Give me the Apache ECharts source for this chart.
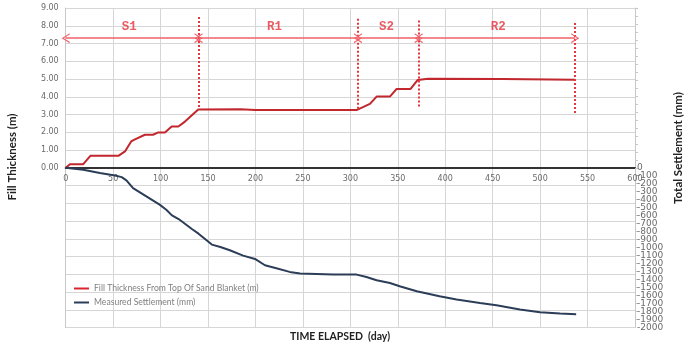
<!DOCTYPE html>
<html>
<head>
<meta charset="utf-8">
<script src="https://cdn.jsdelivr.net/npm/echarts@6/dist/echarts.min.js"></script>
<style>html,body{margin:0;padding:0;background:#fff;}#c{width:684px;height:349px;}</style>
</head>
<body>
<div id="c"></div>
<script>
// ---- data ----
var fillName = 'Fill Thickness From Top Of Sand Blanket (m)';
var settleName = 'Measured Settlement (mm)';
var fillDays = [0, 4.5, 18.5, 26, 55.5, 62.5, 69, 73, 83.5, 92, 97.6, 104.6, 111.7, 118.7, 125.7, 139.7, 184, 200, 307, 320.6, 327.7, 341.7, 348.8, 363.5, 371, 382, 460, 537];
var fillVals = [0, 0.2, 0.2, 0.67, 0.67, 0.92, 1.48, 1.6, 1.86, 1.86, 1.99, 1.99, 2.32, 2.32, 2.6, 3.28, 3.3, 3.25, 3.26, 3.6, 4.01, 4.01, 4.44, 4.44, 4.95, 5.02, 5.0, 4.96];
var settleDays = [0, 18.5, 36, 52, 59, 64, 71, 85, 99, 106, 112, 119, 133, 140, 154, 163, 173, 187, 199.5, 210, 222, 236, 247, 282, 306.6, 317, 327.7, 341.7, 352, 370, 394, 412, 436.6, 454, 478.7, 500, 521, 538];
var settleVals = [0, -25, -67, -96, -117, -158, -254, -358, -462, -525, -596, -642, -767, -825, -962, -992, -1033, -1100, -1142, -1221, -1258, -1304, -1325, -1338, -1338, -1367, -1408, -1442, -1483, -1546, -1608, -1650, -1692, -1721, -1775, -1808, -1825, -1833];

var phaseNames = ['S1', 'R1', 'S2', 'R2'];
var phaseStart = [0, 140, 308, 372];
var phaseEnd = [140, 308, 372, 537];
var arrowLevel = 7.3;
var phaseLabelX = [67, 220, 338, 456];
var phaseLabelY = 7.95;
var dividerDays = [140, 308, 372, 537];
var dividerTop = [8.5, 8.4, 8.3, 8.15];
var dividerBottom = [3.3, 3.3, 3.4, 3.0];

var xMin = 0, xMax = 600, xStep = 50;
var leftMin = -9, leftMax = 9, leftStep = 1;
var rightMin = -2000, rightMax = 2000, rightStep = 100;

var xTitle = 'TIME ELAPSED  (day)';
var leftTitle = 'Fill Thickness (m)';
var rightTitle = 'Total Settlement (mm)';

// ---- build ----
function pairs(xs, ys) { return xs.map(function (x, i) { return [x, ys[i]]; }); }

var chev = 'path://M0,10 L5,0 L10,10 L8.6,10 L5,2.6 L1.4,10 Z';
var arrowLines = phaseStart.map(function (s, i) {
  return [{ coord: [s, arrowLevel] }, { coord: [phaseEnd[i], arrowLevel] }];
});
var dividerLines = dividerDays.map(function (d, i) {
  return [{ coord: [d, dividerTop[i]] }, { coord: [d, dividerBottom[i]] }];
});
var labelPts = phaseLabelX.map(function (x, i) { return [x, phaseLabelY, phaseNames[i]]; });

var gridTop = 8, gridBottom = 21.5, H = 349;
var plotH = H - gridTop - gridBottom;
// x axis sits on the left-axis zero, which is the vertical middle of the grid
var zeroOffset = -plotH * (0 - leftMin) / (leftMax - leftMin);

var rightLabelStyle = { fontFamily: 'DejaVu Sans', fontSize: 9, color: '#6a6a6a', margin: 2 };

var chart = echarts.init(document.getElementById('c'), null, { renderer: 'canvas' });
chart.setOption({
  animation: false,
  backgroundColor: '#ffffff',
  grid: { left: 65.7, right: 49, top: gridTop, bottom: gridBottom },
  legend: {
    data: [fillName, settleName],
    orient: 'vertical', left: 74, top: 284, padding: 0,
    itemWidth: 15, itemHeight: 2, itemGap: 5, icon: 'rect',
    textStyle: { fontFamily: 'Lato', fontSize: 8.6, color: '#808080' },
    selectedMode: false
  },
  xAxis: {
    type: 'value', min: xMin, max: xMax, interval: xStep,
    offset: zeroOffset,
    axisLine: { onZero: false, lineStyle: { color: '#333', width: 2 } },
    axisTick: { show: false },
    axisLabel: { fontFamily: 'DejaVu Sans', fontSize: 8, color: '#6a6a6a', margin: 7 },
    splitLine: { show: true, lineStyle: { color: '#d6d6d6', width: 1 } }
  },
  yAxis: [{
    type: 'value', min: leftMin, max: leftMax, interval: leftStep,
    axisLine: { show: true, lineStyle: { color: '#c8c8c8' } },
    axisTick: { show: false },
    axisLabel: {
      fontFamily: 'DejaVu Sans', fontSize: 8, color: '#6a6a6a', margin: 7,
      formatter: function (v) { return v >= 0 ? v.toFixed(2) : ''; }
    },
    splitLine: { show: true, lineStyle: { color: '#d6d6d6', width: 1 } }
  }, {
    type: 'value', min: rightMin, max: rightMax, interval: rightStep, position: 'right',
    axisLine: { show: true, lineStyle: { color: '#c8c8c8' } },
    axisTick: { show: true, length: 3, lineStyle: { color: '#c8c8c8' } },
    axisLabel: Object.assign({}, rightLabelStyle, {
      showMinLabel: false, hideOverlap: false,
      formatter: function (v) { return v <= 0 ? String(v) : ''; }
    }),
    splitLine: { show: false }
  }, {
    // companion scale carrying only the bottom (-2000) label of the settlement axis
    type: 'value', min: rightMin, max: rightMax, interval: -rightMin, position: 'right',
    axisLine: { show: false }, axisTick: { show: false }, splitLine: { show: false },
    axisLabel: Object.assign({}, rightLabelStyle, {
      showMinLabel: true, hideOverlap: false,
      formatter: function (v) { return v === rightMin ? String(v) : ''; }
    })
  }],
  graphic: [
    { type: 'text', left: 290, top: 331, style: { text: xTitle, font: 'bold 10.5px Lato', fill: '#222' } },
    { type: 'text', x: 12, y: 157, rotation: Math.PI / 2,
      style: { text: leftTitle, font: 'bold 11.5px Lato', fill: '#222', align: 'center', verticalAlign: 'middle' } },
    { type: 'text', x: 678, y: 148, rotation: Math.PI / 2,
      style: { text: rightTitle, font: 'bold 11.5px Lato', fill: '#222', align: 'center', verticalAlign: 'middle' } }
  ],
  series: [{
    name: fillName, type: 'line', yAxisIndex: 0, data: pairs(fillDays, fillVals),
    symbol: 'none', lineStyle: { color: '#c1272d', width: 2 }, itemStyle: { color: '#d9262e' },
    markLine: {
      silent: true, symbol: ['none', 'none'], label: { show: false },
      lineStyle: { color: '#e5353f', width: 2, type: 'dotted' },
      data: dividerLines
    }
  }, {
    name: settleName, type: 'line', yAxisIndex: 1, data: pairs(settleDays, settleVals),
    symbol: 'none', lineStyle: { color: '#2c3d58', width: 2 }, itemStyle: { color: '#2c3d58' }
  }, {
    name: 'phases', type: 'scatter', yAxisIndex: 0, data: labelPts, symbolSize: 0, silent: true,
    label: {
      show: true, position: 'inside', formatter: function (p) { return p.data[2]; },
      fontFamily: 'Liberation Mono', fontWeight: 'bold', fontSize: 12.5, color: '#e5323c'
    },
    markLine: {
      silent: true, symbol: [chev, chev], symbolSize: [10, 8], label: { show: false },
      lineStyle: { color: '#f0606a', width: 1.5, type: 'solid' },
      data: arrowLines
    }
  }]
});
</script>
</body>
</html>
